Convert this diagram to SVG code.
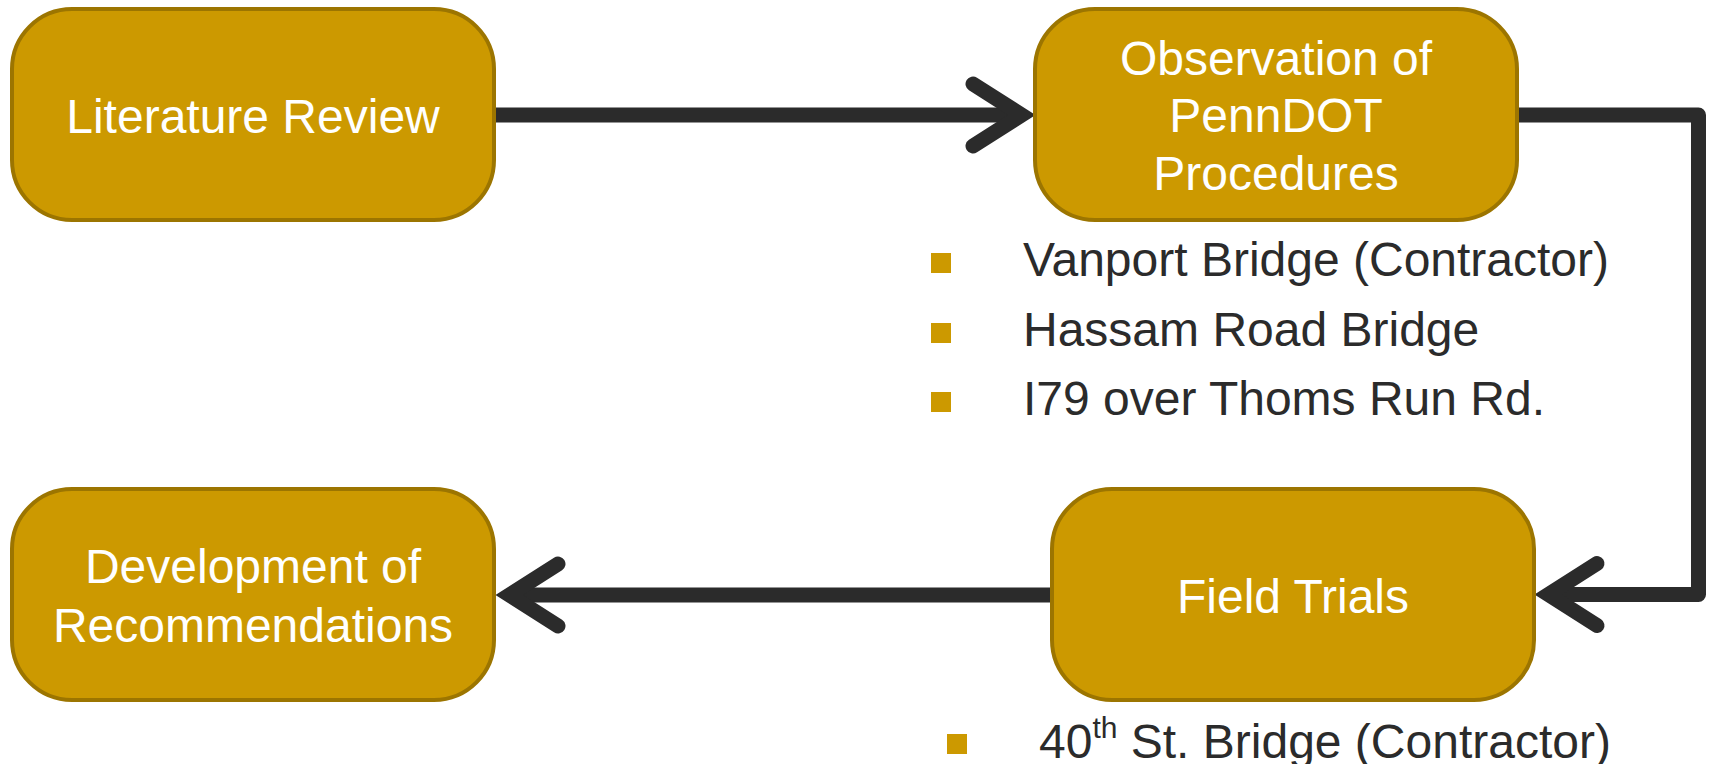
<svg xmlns="http://www.w3.org/2000/svg" xmlns:xlink="http://www.w3.org/1999/xlink" width="1714" height="764" viewBox="0 0 1714 764">
  <style>
    .box { fill: #CC9900; stroke: #9C7500; stroke-width: 4; }
    .label { font-family: "Liberation Sans", Arial, sans-serif; font-size: 48px; fill: #FFFFFF; text-anchor: middle; }
    .item { font-family: "Liberation Sans", Arial, sans-serif; font-size: 48px; fill: #2B2B2B; }
    .bullet { fill: #CC9900; }
    .line { fill: none; stroke: #2B2B2B; stroke-width: 15; stroke-linejoin: round; stroke-linecap: butt; }
    .head { fill: none; stroke: #2B2B2B; stroke-width: 15; stroke-linejoin: miter; stroke-linecap: round; }
  </style>
  <defs>
    <path id="chevron" class="head" d="M -63 -31 L -14.4 0 L -63 31"/>
  </defs>
  <rect width="1714" height="764" fill="#FFFFFF"/>

  <g id="connectors">
    <path class="line" d="M 494 115 H 1022"/>
    <use xlink:href="#chevron" transform="translate(1036 115)"/>
    <path class="line" d="M 1517 115 H 1698.5 V 594.5 H 1548"/>
    <use xlink:href="#chevron" transform="translate(1534 594.5) rotate(180)"/>
    <path class="line" d="M 1052 595 H 509"/>
    <use xlink:href="#chevron" transform="translate(495 595) rotate(180)"/>
  </g>

  <g id="literature-review">
    <rect class="box" x="12" y="9" width="482" height="211" rx="60" ry="60"/>
    <text class="label" x="253" y="133">Literature Review</text>
  </g>

  <g id="observation">
    <rect class="box" x="1035" y="9" width="482" height="211" rx="60" ry="60"/>
    <text class="label" x="1276" y="75">Observation of</text>
    <text class="label" x="1276" y="132">PennDOT</text>
    <text class="label" x="1276" y="190">Procedures</text>
  </g>

  <g id="observation-list">
    <rect class="bullet" x="931" y="253" width="20" height="20"/>
    <text class="item" x="1023" y="276">Vanport Bridge (Contractor)</text>
    <rect class="bullet" x="931" y="323" width="20" height="20"/>
    <text class="item" x="1023" y="346">Hassam Road Bridge</text>
    <rect class="bullet" x="931" y="392" width="20" height="20"/>
    <text class="item" x="1023" y="415">I79 over Thoms Run Rd.</text>
  </g>

  <g id="field-trials">
    <rect class="box" x="1052" y="489" width="482" height="211" rx="60" ry="60"/>
    <text class="label" x="1293" y="613">Field Trials</text>
  </g>

  <g id="field-list">
    <rect class="bullet" x="947" y="734" width="20" height="20"/>
    <text class="item" x="1039" y="758">40<tspan font-size="30" dy="-20">th</tspan><tspan dy="20"> St. Bridge (Contractor)</tspan></text>
  </g>

  <g id="development">
    <rect class="box" x="12" y="489" width="482" height="211" rx="60" ry="60"/>
    <text class="label" x="253" y="583">Development of</text>
    <text class="label" x="253" y="642">Recommendations</text>
  </g>
</svg>
